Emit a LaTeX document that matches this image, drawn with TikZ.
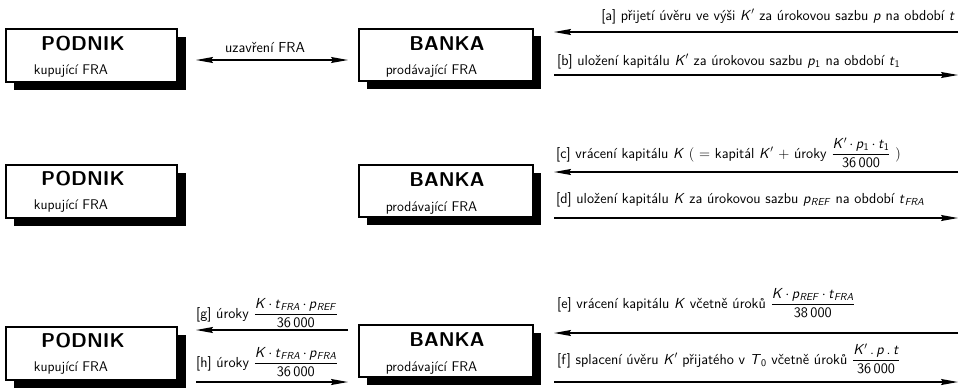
\documentclass[tikz,border=0pt]{standalone}
\usetikzlibrary{arrows.meta,calc}
\renewcommand{\familydefault}{\sfdefault}
\newcommand{\vi}[1]{\textit{#1}}
\newcommand{\kp}{\textit{K}$^{\prime}$}
\newcommand{\fr}[2]{$\displaystyle\frac{\mbox{#1}}{\mbox{#2}}$}
\tikzset{
  boxframe/.style={draw, line width=2pt, fill=white, inner sep=0pt},
  pbox/.style={boxframe, minimum width=171pt, minimum height=53pt},
  bbox/.style={boxframe, minimum width=174pt, minimum height=52pt},
  ttl/.style={font=\fontsize{20}{22}\selectfont\bfseries, inner sep=0pt},
  subttl/.style={font=\fontsize{14}{16}\selectfont, inner sep=0pt},
  lbl/.style={font=\fontsize{14.5}{16}\selectfont, inner sep=0pt},
  fl/.style={line width=1.3pt, -{Stealth[length=17pt,width=6pt,inset=2pt]}},
  fb/.style={line width=1.3pt, {Stealth[length=17pt,width=6pt,inset=2pt]}-{Stealth[length=17pt,width=6pt,inset=2pt]}}
}
\begin{document}
\begin{tikzpicture}[x=1pt,y=-1pt]
\useasboundingbox (0,0) rectangle (966,389);
% shadows
\fill[black] (14,37) rectangle (185.5,90);
\fill[black] (367,36) rectangle (541,89);
\fill[black] (14,172.5) rectangle (185.5,225.5);
\fill[black] (367,173) rectangle (541,225);
\fill[black] (14,334.5) rectangle (185.5,387.5);
\fill[black] (367,333) rectangle (541,385);
% boxes
\node[pbox] (p1) at (91.5,55.5) {};
\node[bbox] (b1) at (446,54.5) {};
\node[pbox] (p2) at (91.5,191) {};
\node[bbox] (b2) at (446,191) {};
\node[pbox] (p3) at (91.5,353) {};
\node[bbox] (b3) at (446,351) {};
\foreach \p in {p1,p2,p3}{
  \node[ttl] (\p t) at ($(\p.north west)+(78,15.5)$) {PODNIK};
  \node[subttl] (\p s) at ($(\p.north west)+(66,43)$) {kupující FRA};
}
\foreach \q in {b1,b2,b3}{
  \node[ttl] (\q t) at ($(\q.north west)+(89,16)$) {BANKA};
  \node[subttl] (\q s) at ($(\q.north west)+(73.5,44)$) {prodávající FRA};
}
% row 1
\draw[fb, shorten <=18pt, shorten >=10pt] ($(p1.east)+(0,4.5)$) -- ($(b1.west)+(0,5.5)$);
\node[lbl] (uz) at (265,48) {uzavření FRA};
\coordinate (ae) at (958,32);
\coordinate (be) at (958,75);
\draw[fl, shorten >=20pt] (ae) -- (b1.east |- ae);
\draw[fl, shorten <=20pt] (b1.east |- be) -- (be);
\node[lbl, anchor=base east] (la) at (955,20) {[a] přijetí úvěru ve výši \kp{} za úrokovou sazbu \vi{p} na období \vi{t}};
\node[lbl, anchor=base west] (lb) at (557,65) {[b] uložení kapitálu \kp{} za úrokovou sazbu \vi{p}\textsubscript{1} na období \vi{t}\textsubscript{1}};
% row 2
\coordinate (ce) at (958,172);
\coordinate (de) at (958,218);
\draw[fl, shorten >=20pt] (ce) -- (b2.east |- ce);
\draw[fl, shorten <=20pt] (b2.east |- de) -- (de);
\node[lbl, anchor=base west] (lc) at (556,158) {[c] vrácení kapitálu \vi{K} $\Big($ = kapitál \kp{} + úroky \fr{\kp\,$\cdot$\,\vi{p}\textsubscript{1}\,$\cdot$\,\vi{t}\textsubscript{1}}{36\,000} $\Big)$};
\node[lbl, anchor=base west] (ld) at (556,203) {[d] uložení kapitálu \vi{K} za úrokovou sazbu \vi{p}\textsubscript{\vi{REF}} na období \vi{t}\textsubscript{\vi{FRA}}};
% row 3
\coordinate (ee) at (958,333);
\coordinate (fe) at (958,382);
\draw[fl, shorten >=20pt] (ee) -- (b3.east |- ee);
\draw[fl, shorten <=20pt] (b3.east |- fe) -- (fe);
\node[lbl, anchor=base west] (le) at (557,308) {[e] vrácení kapitálu \vi{K} včetně úroků \fr{\vi{K}\,$\cdot$\,\vi{p}\textsubscript{\vi{REF}}\,$\cdot$\,\vi{t}\textsubscript{\vi{FRA}}}{38\,000}};
\node[lbl, anchor=base west] (lf) at (557,364) {[f] splacení úvěru \kp{} přijatého v \vi{T}\textsubscript{0} včetně úroků \fr{\kp\,.\,\vi{p}\,.\,\vi{t}}{36\,000}};
\coordinate (gy) at (0,330);
\coordinate (hy) at (0,382);
\draw[fl, shorten <=10pt, shorten >=18pt] (b3.west |- gy) -- (p3.east |- gy);
\draw[fl, shorten <=18pt, shorten >=10pt] (p3.east |- hy) -- (b3.west |- hy);
\node[lbl, anchor=base west] (lg) at (196,318) {[g] úroky \fr{\vi{K}\,$\cdot$\,\vi{t}\textsubscript{\vi{FRA}}\,$\cdot$\,\vi{p}\textsubscript{\vi{REF}}}{36\,000}};
\node[lbl, anchor=base west] (lh) at (196,367) {[h] úroky \fr{\vi{K}\,$\cdot$\,\vi{t}\textsubscript{\vi{FRA}}\,$\cdot$\,\vi{p}\textsubscript{\vi{FRA}}}{36\,000}};
\end{tikzpicture}
\end{document}
